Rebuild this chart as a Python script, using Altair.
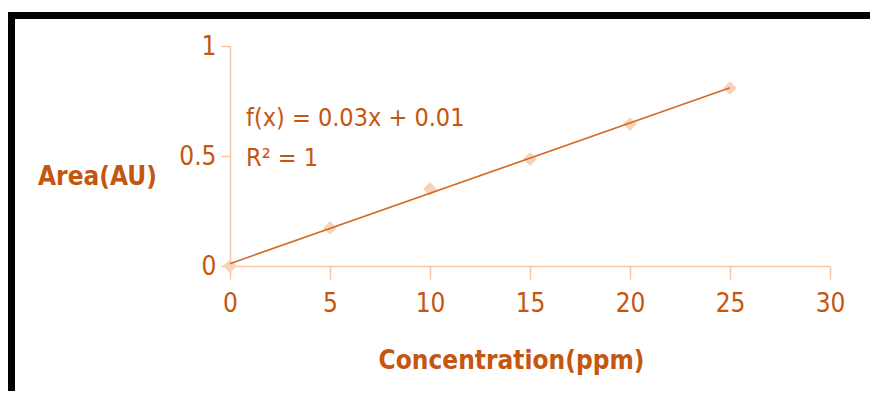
import altair as alt
import pandas as pd

concentration = [0, 5, 10, 15, 20, 25]
area = [0.0, 0.173, 0.35, 0.486, 0.645, 0.809]
x_ticks = [0, 5, 10, 15, 20, 25, 30]
y_ticks = [0, 0.5, 1]
equation_lines = ["f(x) = 0.03x + 0.01", "R² = 1"]

LABEL = "#c5560f"
AXIS = "#f2c6a6"
MARK = "#f6d3b9"
LINE = "#d46a26"
FONT = "DejaVu Sans Condensed, Liberation Sans Narrow, sans-serif"

df = pd.DataFrame({"conc": concentration, "area": area})

x_enc = alt.X(
    "conc:Q",
    scale=alt.Scale(domain=[0, 30], nice=False),
    axis=alt.Axis(
        values=x_ticks, title="Concentration(ppm)", grid=False, labelFlush=False,
        domainColor=AXIS, tickColor=AXIS, tickSize=13, domainWidth=1.5, tickWidth=1.5,
        labelColor=LABEL, labelFont=FONT, labelFontSize=26, labelPadding=11,
        titleColor=LABEL, titleFont=FONT, titleFontSize=26, titleFontWeight="bold",
        titleX=281, titleY=94, titleBaseline="middle", titleAlign="center",
    ),
)
y_enc = alt.Y(
    "area:Q",
    scale=alt.Scale(domain=[0, 1], nice=False),
    axis=alt.Axis(
        values=y_ticks, title="Area(AU)", grid=False, format="~g", labelFlush=False,
        domainColor=AXIS, tickColor=AXIS, tickSize=9, domainWidth=1.5, tickWidth=1.5,
        labelColor=LABEL, labelFont=FONT, labelFontSize=26, labelPadding=5,
        titleColor=LABEL, titleFont=FONT, titleFontSize=26, titleFontWeight="bold",
        titleAngle=0, titleX=-133, titleY=130, titleBaseline="middle", titleAlign="center",
    ),
)

base = alt.Chart(df)

points = base.mark_point(shape="diamond", filled=True, color=MARK, size=190, opacity=1).encode(
    x=x_enc, y=y_enc
)

trend = base.transform_regression("conc", "area", method="linear").mark_line(
    color=LINE, strokeWidth=1.6
).encode(x="conc:Q", y="area:Q")

eq = alt.Chart(pd.DataFrame({"t": [equation_lines[0]]})).mark_text(
    align="left", baseline="middle", font=FONT, fontSize=25, color=LABEL
).encode(text="t:N", x=alt.value(16), y=alt.value(72))

r2 = alt.Chart(pd.DataFrame({"t": [equation_lines[1]]})).mark_text(
    align="left", baseline="middle", font=FONT, fontSize=25, color=LABEL
).encode(text="t:N", x=alt.value(16), y=alt.value(112))

border_left = alt.Chart(pd.DataFrame({"a": [0]})).mark_rule(color="black", strokeWidth=7).encode(
    x=alt.value(-218.5), y=alt.value(-34), y2=alt.value(360)
)
border_top = alt.Chart(pd.DataFrame({"a": [0]})).mark_rule(color="black", strokeWidth=7).encode(
    y=alt.value(-30.5), x=alt.value(-222), x2=alt.value(660)
)

chart = alt.layer(points, trend, eq, r2, border_left, border_top).properties(
    width=600, height=220,
    padding={"left": 222, "top": 38, "right": 40, "bottom": 125},
    autosize=alt.AutoSizeParams(type="none"),
).configure_view(stroke=None)

chart.save("out.html", embed_options={"renderer": "svg", "actions": False})
